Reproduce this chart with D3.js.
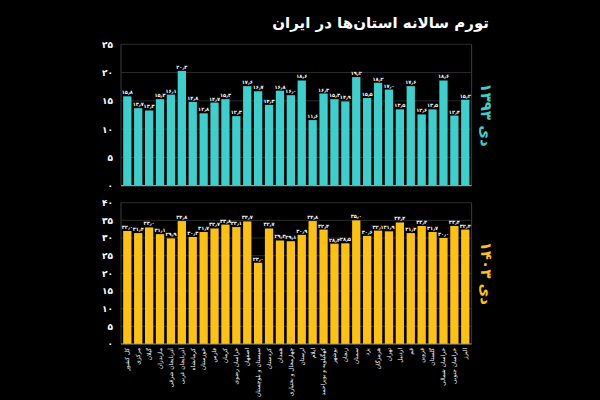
<!DOCTYPE html>
<html><head><meta charset="utf-8">
<script src="https://cdn.jsdelivr.net/npm/d3@7"></script>
<style>html,body{margin:0;padding:0;background:#000;}svg{display:block;}</style>
</head><body>
<script>
const title = "تورم سالانه استان‌ها در ایران";
const provinces = ["کل کشور","مرکزی","گیلان","مازندران","آذربایجان شرقی","آذربایجان غربی","کرمانشاه","خوزستان","فارس","کرمان","خراسان رضوی","اصفهان","سیستان و بلوچستان","کردستان","همدان","چهارمحال و بختیاری","لرستان","ایلام","کهگیلویه و بویراحمد","بوشهر","زنجان","سمنان","یزد","هرمزگان","تهران","اردبیل","قم","قزوین","گلستان","خراسان شمالی","خراسان جنوبی","البرز"];
const series1Label = "دی ۱۳۹۳";
const values1 = [15.8,13.7,13.3,15.3,16.1,20.3,14.8,12.8,14.7,15.3,12.3,17.6,16.7,14.3,16.8,16.0,18.6,11.6,16.3,15.3,14.9,19.2,15.5,18.2,17.0,13.5,17.6,12.6,13.5,18.6,12.4,15.2];
const ticks1 = [0,5,10,15,20,25];
const series2Label = "دی ۱۴۰۳";
const values2 = [32.0,31.4,33.0,31.1,29.9,34.8,30.3,31.7,32.7,33.8,33.1,34.7,23.0,32.7,29.3,29.1,30.9,34.8,32.4,28.4,28.5,35.0,30.6,32.1,31.9,34.4,31.4,33.4,31.7,30.0,33.4,32.4];
const ticks2 = [0,5,10,15,20,25,30,35,40];

const fa = v => String(v).replace(/\d/g, c => "۰۱۲۳۴۵۶۷۸۹"[c]).replace(".", "٫");
const fmt1 = v => fa(v.toFixed(1));
const FONT = "'DejaVu Sans', sans-serif";

const W = 600, H = 400;
const svg = d3.select("body").append("svg").attr("width", W).attr("height", H)
  .style("background", "#000");

svg.append("text").attr("x", 489).attr("y", 28).attr("text-anchor", "end")
  .attr("fill", "#fff").attr("font-family", FONT).attr("font-weight", "bold")
  .attr("font-size", 15).text(title);

const x = d3.scaleBand().domain(provinces).range([121, 471.6]).paddingInner(0.24).paddingOuter(0.2);

function panel(values, ticks, color, label, top, bottom, maxV, showX) {
  const y = d3.scaleLinear().domain([0, maxV]).range([bottom, top]);
  const g = svg.append("g");
  g.append("g").selectAll("line").data(ticks.filter(t => t > 0)).join("line")
    .attr("x1", 121).attr("x2", 471.6).attr("y1", d => y(d)).attr("y2", d => y(d))
    .attr("stroke", "#2b2b2b").attr("stroke-width", 1);
  g.append("line").attr("x1", 121).attr("x2", 121).attr("y1", top).attr("y2", bottom).attr("stroke", "#3a3a3a");
  g.append("line").attr("x1", 471.6).attr("x2", 471.6).attr("y1", top).attr("y2", bottom).attr("stroke", "#3a3a3a");
  const ax = d3.axisLeft(y).tickValues(ticks).tickFormat(fa).tickSize(0).tickPadding(8);
  const ag = g.append("g").attr("transform", "translate(121,0)").call(ax);
  ag.select(".domain").remove();
  ag.selectAll("text").attr("fill", "#fff").attr("font-family", FONT).attr("font-weight", "bold").attr("font-size", 9);
  g.append("g").selectAll("rect").data(values).join("rect")
    .attr("x", (d, i) => x(provinces[i])).attr("width", x.bandwidth())
    .attr("y", d => y(d)).attr("height", d => y(0) - y(d)).attr("fill", color);
  g.append("g").selectAll("text").data(values).join("text")
    .attr("x", (d, i) => x(provinces[i]) + x.bandwidth() / 2).attr("y", d => y(d) - 2)
    .attr("text-anchor", "middle").attr("fill", "#fff").attr("font-family", FONT)
    .attr("font-weight", "bold").attr("font-size", 5).attr("letter-spacing", -0.3).text(fmt1);
  g.append("line").attr("x1", 121).attr("x2", 471.6).attr("y1", y(0)).attr("y2", y(0)).attr("stroke", "#9a9a9a").attr("stroke-width", 1.2);
  g.append("text").attr("transform", `translate(481,${(top + bottom) / 2}) rotate(90)`)
    .attr("text-anchor", "middle").attr("fill", color).attr("font-family", FONT)
    .attr("font-weight", "bold").attr("font-size", 15).text(label);
  if (showX) {
    const xa = d3.axisBottom(x).tickSize(0).tickPadding(0);
    const xg = g.append("g").attr("transform", `translate(0,${bottom})`).call(xa);
    xg.select(".domain").remove();
    xg.selectAll("text").attr("transform", "translate(0,4) rotate(-90)")
      .attr("text-anchor", "end").attr("dy", "0.32em").attr("x", 0).attr("y", 0)
      .attr("fill", "#fff").attr("font-family", FONT).attr("font-size", 5.8);
  }
}

panel(values1, ticks1, "#3dcfcc", series1Label, 44.3, 185.7, 25, false);
panel(values2, ticks2, "#fdc111", series2Label, 202.7, 344, 40, true);
</script>
</body></html>
